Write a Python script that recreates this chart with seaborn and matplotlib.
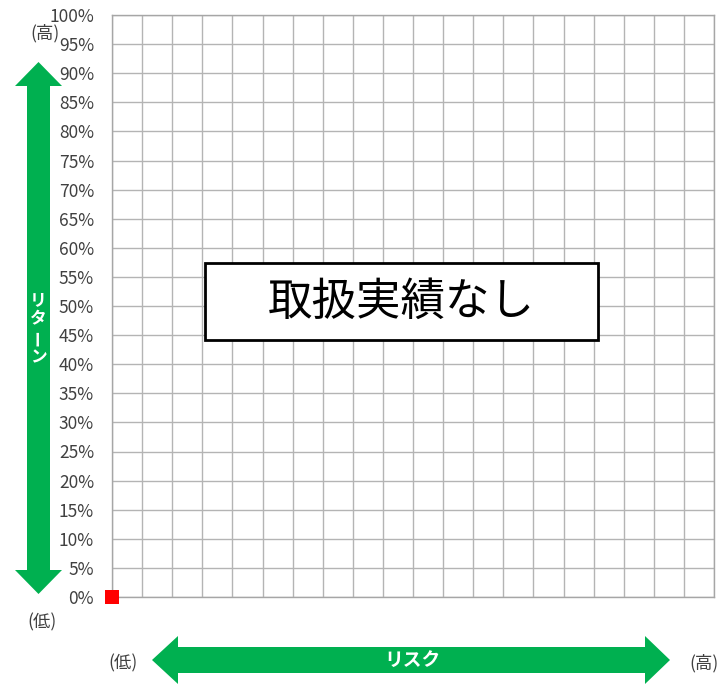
import matplotlib
matplotlib.use("Agg")
import matplotlib.pyplot as plt
from matplotlib.patches import Polygon
import seaborn as sns
import pandas as pd

# Data
risk = [0]
ret = [0]
x_ticks = [0, 5, 10, 15, 20, 25, 30, 35, 40, 45, 50, 55, 60, 65, 70, 75, 80, 85, 90, 95, 100]
y_ticks = [0, 5, 10, 15, 20, 25, 30, 35, 40, 45, 50, 55, 60, 65, 70, 75, 80, 85, 90, 95, 100]
y_labels = [f"{v}%" for v in y_ticks]
message = "取扱実績なし"

sns.set_style("white")
plt.rcParams["font.family"] = ["Noto Sans CJK JP", "DejaVu Sans"]

W, H = 724, 685
fig = plt.figure(figsize=(W / 100, H / 100), dpi=100)
ax = fig.add_axes([112 / W, 1 - 597 / H, (714 - 112) / W, (597 - 15) / H])

df = pd.DataFrame({"risk": risk, "ret": ret})
sns.scatterplot(data=df, x="risk", y="ret", ax=ax, marker="s", s=100,
                color="#FF0000", edgecolor="none", clip_on=False, zorder=5)

ax.set_xlim(x_ticks[0], x_ticks[-1])
ax.set_ylim(y_ticks[0], y_ticks[-1])
ax.set_xticks(x_ticks)
ax.set_yticks(y_ticks)
ax.set_yticklabels(y_labels)
ax.set_xticklabels([])
ax.tick_params(axis="x", length=0)
ax.tick_params(axis="y", length=6, width=1, color="#A6A6A6", pad=7,
               labelsize=12.5, labelcolor="#404040")
ax.grid(True, color="#B4B4B4", linewidth=1)
for sp in ax.spines.values():
    sp.set_color("#A6A6A6")
    sp.set_linewidth(1)
ax.set_xlabel("")
ax.set_ylabel("")
ax.set_axisbelow(True)


def px(points):
    return [(x / W, 1 - y / H) for x, y in points]


green = "#00B050"

# Vertical double arrow (return)
v_arrow = [(38.5, 62), (62, 86), (50, 86), (50, 570), (62, 570), (38.5, 594),
           (15, 570), (27, 570), (27, 86), (15, 86)]
fig.add_artist(Polygon(px(v_arrow), closed=True, facecolor=green,
                       edgecolor="none", transform=fig.transFigure))

# Horizontal double arrow (risk)
h_arrow = [(152, 660), (178, 636), (178, 647), (645, 647), (645, 636), (670, 660),
           (645, 684), (645, 673), (178, 673), (178, 684)]
fig.add_artist(Polygon(px(h_arrow), closed=True, facecolor=green,
                       edgecolor="none", transform=fig.transFigure))

# Upright vertical label inside the arrow
for ch, y, rot in [("リ", 300, 0), ("タ", 319, 0), ("ー", 338, 90), ("ン", 357, 0)]:
    fig.text(38.5 / W, 1 - y / H, ch, ha="center", va="center", color="white",
             fontsize=12, fontweight="bold", rotation=rot)

fig.text(412 / W, 1 - 660 / H, "リスク", ha="center", va="center", color="white",
         fontsize=13.5, fontweight="bold")

# End labels
lab = dict(ha="center", va="center", color="#404040", fontsize=12.5)
fig.text(45 / W, 1 - 33 / H, "(高)", **lab)
fig.text(42 / W, 1 - 622 / H, "(低)", **lab)
fig.text(123 / W, 1 - 663 / H, "(低)", **lab)
fig.text(704 / W, 1 - 663 / H, "(高)", **lab)

# Message box
box = [(205, 263), (598, 263), (598, 340), (205, 340)]
fig.add_artist(Polygon(px(box), closed=True, facecolor="white", edgecolor="black",
                       linewidth=2, transform=fig.transFigure, zorder=3))
fig.text((205 + 598) / 2 / W, 1 - 302 / H, message, ha="center", va="center",
         fontsize=32, color="black", zorder=4)

fig.savefig("out.png", dpi=100)
